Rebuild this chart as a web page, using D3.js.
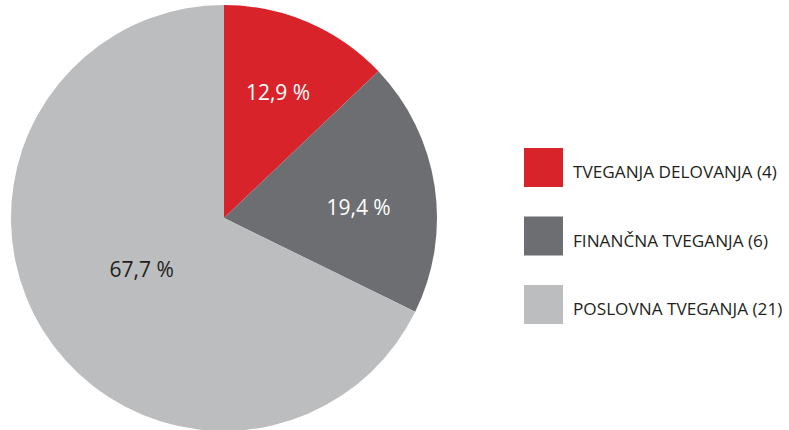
<!DOCTYPE html>
<html>
<head>
<meta charset="utf-8">
<script src="https://cdn.jsdelivr.net/npm/d3@7/dist/d3.min.js"></script>
<style>
  html, body { margin: 0; padding: 0; background: #fff; }
  svg { display: block; }
</style>
</head>
<body>
<svg id="chart" width="789" height="430"></svg>
<script>
// Risk categories and their counts
const categories = ["TVEGANJA DELOVANJA", "FINANČNA TVEGANJA", "POSLOVNA TVEGANJA"];
const counts = [4, 6, 21];
const percentLabels = ["12,9 %", "19,4 %", "67,7 %"];

const colors = ["#d9232b", "#6d6e71", "#bcbdbf"];
const labelColors = ["#ffffff", "#ffffff", "#231f20"];
// where each percentage sits: distance from centre and share of the slice's sweep
const labelRadii = [137, 135, 97];
const labelSweep = [0.5, 0.56, 0.5];

const svg = d3.select("#chart");
const cx = 224, cy = 218, R = 213;

const pie = d3.pie().sort(null).value(d => d)(counts);
const arc = d3.arc().innerRadius(0).outerRadius(R);

const g = svg.append("g").attr("transform", `translate(${cx},${cy})`);

g.selectAll("path.slice")
  .data(pie)
  .join("path")
  .attr("class", "slice")
  .attr("d", arc)
  .attr("fill", (d, i) => colors[i]);

g.selectAll("text.pct")
  .data(pie)
  .join("text")
  .attr("class", "pct")
  .attr("transform", (d, i) => {
    const a = d.startAngle + (d.endAngle - d.startAngle) * labelSweep[i];
    const r = labelRadii[i];
    return `translate(${r * Math.sin(a)},${-r * Math.cos(a)})`;
  })
  .attr("text-anchor", "middle")
  .attr("dy", "0.36em")
  .attr("font-family", "'Open Sans', sans-serif")
  .attr("font-size", 21)
  .attr("fill", (d, i) => labelColors[i])
  .text((d, i) => percentLabels[i]);

// Legend
const legendY = d3.scalePoint().domain(categories).range([148, 285]);
const legend = svg.append("g");
const item = legend.selectAll("g")
  .data(categories)
  .join("g")
  .attr("transform", d => `translate(524,${legendY(d)})`);

item.append("rect")
  .attr("width", 39)
  .attr("height", 39)
  .attr("fill", (d, i) => colors[i]);

item.append("text")
  .attr("x", 49)
  .attr("y", 30)
  .attr("font-family", "'Open Sans', sans-serif")
  .attr("font-size", 17.2)
  .attr("fill", "#231f20")
  .text((d, i) => `${d} (${counts[i]})`);
</script>
</body>
</html>
